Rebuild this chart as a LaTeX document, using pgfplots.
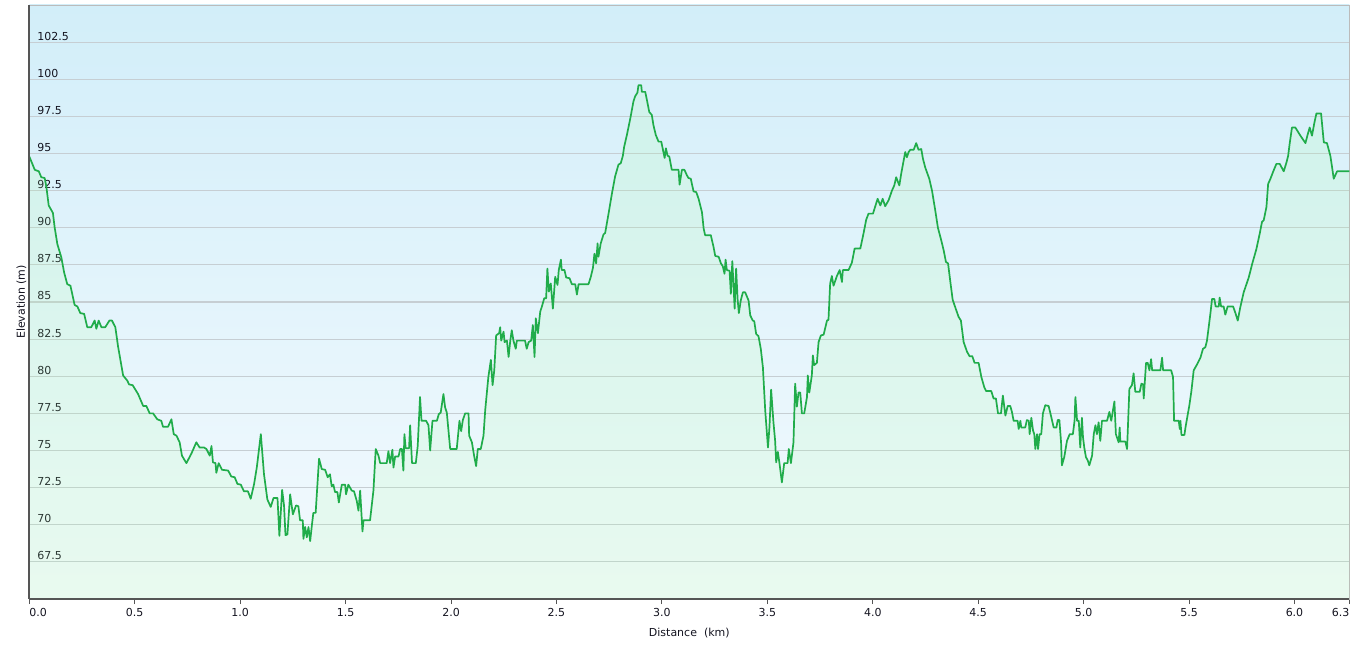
\documentclass[border=0pt]{standalone}
\usepackage{pgfplots}
\pgfplotsset{compat=1.18}
\usepackage{pgfplotstable}
\usepackage{fontspec}
\setmainfont{DejaVu Sans}
\definecolor{linegreen}{HTML}{20AC4A}
\definecolor{bgtop}{HTML}{D2EEF9}
\definecolor{bgbot}{HTML}{F4FAFE}
\definecolor{areafill}{HTML}{ABFFA0}
\definecolor{gridc}{HTML}{C6CED3}
\definecolor{axdark}{HTML}{555555}
\definecolor{axlight}{HTML}{BBBBBB}
\definecolor{txt}{HTML}{141420}
\pgfdeclareverticalshading{bgsh}{100bp}{color(0bp)=(bgbot); color(25bp)=(bgbot); color(75bp)=(bgtop); color(100bp)=(bgtop)}

\pgfplotstableread{
x y
0.000 94.8
0.026 93.9
0.045 93.8
0.057 93.4
0.073 93.35
0.081 92.75
0.092 91.5
0.112 91.0
0.120 90.05
0.133 88.9
0.152 88.0
0.165 87.0
0.180 86.2
0.195 86.1
0.215 84.8
0.228 84.7
0.242 84.25
0.260 84.2
0.275 83.3
0.294 83.3
0.310 83.75
0.318 83.2
0.329 83.75
0.342 83.3
0.360 83.3
0.380 83.75
0.392 83.75
0.408 83.3
0.421 82.0
0.445 80.05
0.465 79.7
0.473 79.45
0.490 79.4
0.516 78.8
0.540 78.0
0.555 78.0
0.571 77.5
0.587 77.5
0.607 77.1
0.626 77.0
0.634 76.6
0.658 76.6
0.674 77.1
0.685 76.1
0.698 76.0
0.713 75.55
0.724 74.65
0.745 74.15
0.769 74.8
0.792 75.55
0.808 75.2
0.829 75.2
0.840 75.1
0.856 74.65
0.864 75.3
0.871 74.2
0.883 74.15
0.887 73.5
0.898 74.15
0.914 73.7
0.943 73.65
0.958 73.25
0.974 73.2
0.987 72.75
1.003 72.7
1.018 72.25
1.037 72.25
1.050 71.75
1.066 72.74
1.079 73.87
1.098 76.1
1.113 73.4
1.129 71.7
1.145 71.2
1.158 71.8
1.177 71.8
1.186 69.25
1.199 72.35
1.208 71.3
1.215 69.3
1.224 69.35
1.237 72.05
1.250 70.7
1.265 71.3
1.276 71.25
1.284 70.3
1.297 70.3
1.300 69.05
1.308 69.85
1.316 69.15
1.324 69.85
1.332 68.9
1.340 69.95
1.347 70.8
1.358 70.8
1.374 74.45
1.387 73.75
1.403 73.7
1.415 73.2
1.426 73.4
1.434 72.6
1.442 72.7
1.450 72.2
1.461 72.2
1.468 71.5
1.482 72.7
1.498 72.7
1.502 72.05
1.513 72.7
1.529 72.3
1.540 72.25
1.553 71.6
1.561 70.95
1.569 72.3
1.580 69.55
1.585 70.3
1.616 70.3
1.632 72.3
1.643 75.1
1.656 74.65
1.664 74.15
1.695 74.15
1.703 74.95
1.711 74.15
1.722 75.05
1.727 73.85
1.735 74.6
1.751 74.6
1.759 75.1
1.767 75.1
1.774 73.65
1.779 76.1
1.785 75.15
1.801 75.15
1.806 76.7
1.815 74.15
1.833 74.15
1.842 75.3
1.853 78.6
1.860 77.0
1.882 77.0
1.893 76.7
1.901 75.0
1.912 77.0
1.933 77.0
1.942 77.45
1.951 77.55
1.964 78.8
1.972 77.9
1.980 77.55
1.996 75.1
2.027 75.1
2.040 77.0
2.048 76.3
2.056 77.05
2.067 77.5
2.083 77.5
2.086 76.0
2.099 75.55
2.110 74.6
2.119 73.95
2.127 75.1
2.141 75.1
2.154 76.0
2.162 77.7
2.177 79.95
2.189 81.1
2.197 79.4
2.205 80.4
2.214 82.75
2.228 82.9
2.233 83.3
2.238 82.4
2.249 83.0
2.254 82.3
2.265 82.4
2.273 81.3
2.281 82.4
2.288 83.1
2.296 82.4
2.307 81.85
2.312 82.4
2.351 82.4
2.359 81.85
2.368 82.3
2.380 82.4
2.388 83.45
2.396 81.3
2.402 83.9
2.412 82.9
2.423 84.35
2.431 84.7
2.442 85.25
2.451 85.25
2.457 87.25
2.464 85.7
2.473 86.25
2.483 84.55
2.494 86.7
2.505 86.15
2.511 87.15
2.521 87.85
2.525 87.15
2.538 87.15
2.546 86.65
2.562 86.6
2.573 86.2
2.589 86.2
2.597 85.5
2.605 86.2
2.652 86.2
2.663 86.7
2.673 87.3
2.680 88.25
2.688 87.6
2.695 88.95
2.699 88.05
2.710 88.95
2.723 89.55
2.731 89.65
2.747 90.95
2.763 92.3
2.778 93.45
2.794 94.25
2.805 94.35
2.815 94.85
2.821 95.45
2.834 96.25
2.850 97.35
2.865 98.5
2.873 98.85
2.884 99.1
2.889 99.6
2.902 99.6
2.905 99.15
2.921 99.15
2.929 98.6
2.940 97.8
2.952 97.6
2.960 96.9
2.971 96.25
2.984 95.8
2.997 95.8
3.005 95.25
3.013 94.7
3.019 95.35
3.027 94.85
3.035 94.8
3.047 93.9
3.079 93.9
3.084 92.9
3.090 93.45
3.095 93.9
3.107 93.9
3.118 93.55
3.126 93.35
3.137 93.3
3.150 92.45
3.163 92.4
3.174 91.95
3.190 91.05
3.198 89.95
3.205 89.5
3.232 89.5
3.245 88.7
3.253 88.1
3.269 88.05
3.280 87.6
3.289 87.4
3.297 86.9
3.302 87.85
3.308 87.15
3.321 87.1
3.327 85.55
3.334 87.75
3.340 86.0
3.345 84.55
3.352 87.25
3.359 85.2
3.365 84.25
3.374 85.1
3.384 85.65
3.395 85.65
3.411 85.1
3.419 84.1
3.431 83.75
3.438 83.7
3.447 82.85
3.458 82.7
3.469 81.85
3.479 80.6
3.490 77.7
3.503 75.2
3.510 76.55
3.518 79.1
3.529 76.9
3.537 75.65
3.542 74.2
3.550 74.9
3.558 74.1
3.569 72.85
3.580 74.15
3.596 74.15
3.602 75.1
3.612 74.15
3.624 75.55
3.632 79.5
3.640 77.95
3.648 78.9
3.656 78.9
3.664 77.5
3.675 77.5
3.688 78.6
3.692 80.05
3.699 78.9
3.711 80.05
3.716 81.4
3.722 80.75
3.735 80.9
3.743 82.3
3.754 82.75
3.767 82.8
3.783 83.75
3.790 83.8
3.798 86.25
3.806 86.75
3.814 86.1
3.830 86.75
3.843 87.15
3.854 86.35
3.858 87.15
3.885 87.15
3.901 87.65
3.914 88.6
3.941 88.6
3.956 89.6
3.969 90.55
3.980 90.95
4.001 90.95
4.023 91.95
4.036 91.5
4.047 91.95
4.059 91.45
4.075 91.85
4.091 92.5
4.102 92.85
4.111 93.4
4.126 92.85
4.135 93.65
4.154 95.1
4.162 94.75
4.170 95.1
4.178 95.25
4.194 95.25
4.206 95.7
4.217 95.25
4.230 95.3
4.238 94.65
4.249 94.05
4.268 93.3
4.281 92.5
4.296 91.2
4.309 90.0
4.323 89.25
4.336 88.5
4.347 87.7
4.357 87.6
4.368 86.35
4.379 85.15
4.391 84.65
4.407 84.0
4.418 83.75
4.431 82.3
4.447 81.65
4.459 81.35
4.472 81.35
4.483 80.9
4.502 80.9
4.515 79.95
4.529 79.25
4.538 79.0
4.562 79.0
4.573 78.5
4.584 78.5
4.594 77.5
4.608 77.5
4.617 78.7
4.629 77.35
4.640 78.0
4.652 78.0
4.660 77.6
4.668 77.0
4.687 77.0
4.692 76.45
4.700 77.0
4.704 76.55
4.723 76.55
4.731 77.05
4.740 77.0
4.744 76.1
4.752 77.2
4.760 76.35
4.766 76.1
4.771 75.1
4.779 76.1
4.784 75.1
4.791 76.1
4.799 76.1
4.807 77.5
4.818 78.05
4.834 78.0
4.845 77.35
4.858 76.55
4.871 76.55
4.877 77.05
4.885 77.05
4.893 75.55
4.897 74.0
4.908 74.55
4.921 75.65
4.934 76.1
4.949 76.1
4.957 77.0
4.961 78.6
4.969 77.0
4.977 77.0
4.984 75.2
4.992 77.2
4.997 75.9
5.003 75.2
5.011 74.55
5.019 74.35
5.027 74.0
5.040 74.65
5.048 76.1
5.056 76.7
5.063 76.1
5.071 76.9
5.079 75.65
5.087 77.0
5.111 77.0
5.122 77.6
5.131 77.0
5.146 78.3
5.153 76.1
5.166 75.55
5.171 76.55
5.174 75.6
5.198 75.6
5.206 75.1
5.217 79.15
5.229 79.4
5.237 80.2
5.245 78.95
5.266 78.95
5.274 79.5
5.282 79.45
5.285 78.5
5.296 80.9
5.304 80.9
5.312 80.4
5.320 81.15
5.325 80.4
5.364 80.4
5.372 81.25
5.377 80.4
5.415 80.4
5.424 79.95
5.429 77.0
5.451 77.0
5.456 76.45
5.459 77.0
5.464 76.05
5.478 76.05
5.483 76.55
5.494 77.45
5.501 78.0
5.511 79.0
5.522 80.4
5.538 80.8
5.554 81.25
5.566 81.85
5.577 81.95
5.585 82.4
5.593 83.3
5.601 84.2
5.609 85.2
5.620 85.2
5.626 84.7
5.641 84.7
5.645 85.3
5.652 84.7
5.664 84.7
5.672 84.15
5.683 84.7
5.709 84.7
5.720 84.25
5.731 83.75
5.743 84.65
5.759 85.65
5.783 86.65
5.799 87.55
5.819 88.55
5.835 89.6
5.846 90.4
5.854 90.5
5.867 91.4
5.875 92.95
5.886 93.3
5.898 93.75
5.914 94.3
5.930 94.3
5.949 93.8
5.962 94.4
5.970 94.85
5.977 95.65
5.988 96.75
6.004 96.75
6.028 96.2
6.052 95.7
6.060 96.15
6.072 96.75
6.083 96.2
6.094 97.05
6.104 97.7
6.126 97.7
6.139 95.75
6.154 95.7
6.170 94.85
6.178 94.1
6.186 93.3
6.202 93.8
6.260 93.8
}\elev

\begin{document}
\begin{tikzpicture}
\path[use as bounding box] (-29.3bp,-48bp) rectangle (1324.7bp,599bp);
\begin{axis}[
  scale only axis,
  width=1320bp, height=594bp,
  xmin=0, xmax=6.26, ymin=65, ymax=105,
  axis background/.style={shade, shading=bgsh},
  axis line style={draw=axlight, line width=0.8bp},
  xtick={0,0.5,1,1.5,2,2.5,3,3.5,4,4.5,5,5.5,6,6.26},
  xticklabels={\makebox[0pt][l]{0.0},0.5,1.0,1.5,2.0,2.5,3.0,3.5,4.0,4.5,5.0,5.5,6.0,\makebox[0pt][r]{6.3}},
  ytick={67.5,70,72.5,75,77.5,80,82.5,85,87.5,90,92.5,95,97.5,100,102.5},
  yticklabels={67.5,70,72.5,75,77.5,80,82.5,85,87.5,90,92.5,95,97.5,100,102.5},
  xtick pos=bottom,
  tick align=outside,
  major tick length=5bp,
  x tick style={draw=axdark, line width=1bp},
  y tick style={draw=none},
  ymajorgrids,
  major grid style={draw=gridc, line width=1.2bp},
  tick label style={font=\fontsize{11bp}{13bp}\selectfont, text=txt},
  /pgf/number format/assume math mode=true,
  xticklabel style={anchor=base, inner sep=0pt, yshift=-12bp},
  yticklabel style={anchor=base west, inner sep=0pt, xshift=13bp, yshift=2bp},
  xlabel={Distance~~(km)},
  ylabel={Elevation (m)},
  label style={font=\fontsize{11bp}{13bp}\selectfont, text=txt},
  xlabel style={at={(axis description cs:0.5,-0.0623)}, anchor=base},
  ylabel style={at={(axis description cs:-0.0034,0.5)}, anchor=base},
  clip=true,
]
\addplot[draw=none, fill=areafill, fill opacity=0.15] table[x=x,y=y]{\elev} \closedcycle;
\addplot[color=linegreen, line width=1.7bp, line join=round] table[x=x,y=y]{\elev};
\end{axis}
\draw[axdark, line width=1.6bp] (0,0) -- (0,594bp);
\draw[axdark, line width=1.6bp] (0,0) -- (1320bp,0);
\end{tikzpicture}
\end{document}
